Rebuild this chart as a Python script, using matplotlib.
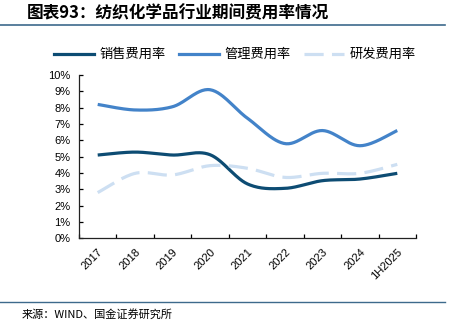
import numpy as np
import matplotlib
matplotlib.use("Agg")
import matplotlib.pyplot as plt
from matplotlib.lines import Line2D
from matplotlib.ticker import FixedLocator, FuncFormatter

plt.rcParams["font.family"] = ["Liberation Sans", "Noto Sans CJK SC", "DejaVu Sans"]

# data (%)
years = ["2017", "2018", "2019", "2020", "2021", "2022", "2023", "2024", "1H2025"]
sales_rate = [5.10, 5.28, 5.10, 5.12, 3.33, 3.06, 3.53, 3.63, 3.98]
admin_rate = [8.20, 7.86, 8.06, 9.10, 7.35, 5.80, 6.60, 5.67, 6.60]
rnd_rate = [2.80, 3.98, 3.88, 4.45, 4.29, 3.73, 3.98, 3.98, 4.53]

C_SALES = "#0d4c73"
C_ADMIN = "#4383c9"
C_RND = "#cddff2"


def smooth(xs, ys, n=30):
    """Excel-style smoothed line (cubic bezier through the points)."""
    xs = np.asarray(xs, float)
    ys = np.asarray(ys, float)
    pts = np.column_stack([xs, ys])
    out = []
    for i in range(len(pts) - 1):
        p0 = pts[i - 1] if i > 0 else pts[i]
        p1 = pts[i]
        p2 = pts[i + 1]
        p3 = pts[i + 2] if i + 2 < len(pts) else pts[i + 1]
        c1 = p1 + (p2 - p0) / 6
        c2 = p2 - (p3 - p1) / 6
        t = np.linspace(0, 1, n)[:, None]
        seg = ((1 - t) ** 3) * p1 + 3 * ((1 - t) ** 2) * t * c1 + 3 * (1 - t) * t ** 2 * c2 + t ** 3 * p2
        out.append(seg if i == 0 else seg[1:])
    seg = np.vstack(out)
    return seg[:, 0], seg[:, 1]


fig = plt.figure(figsize=(4.56, 3.32), dpi=100)
ax = fig.add_axes([0.1732, 0.2822, 0.7391, 0.4918])

x = np.arange(len(years))
for vals, color, ls in [(sales_rate, C_SALES, "-"), (admin_rate, C_ADMIN, "-"), (rnd_rate, C_RND, "--")]:
    sx, sy = smooth(x, vals)
    line, = ax.plot(sx, sy, color=color, linewidth=2.3, linestyle=ls, solid_capstyle="butt")
    if ls == "--":
        line.set_dashes((6, 2.6))

ax.set_xlim(-0.5, len(years) - 0.5)
ax.set_ylim(0, 10)
ax.yaxis.set_major_locator(FixedLocator(np.arange(0, 11)))
ax.yaxis.set_major_formatter(FuncFormatter(lambda v, p: f"{v:.0f}%"))
ax.xaxis.set_major_locator(FixedLocator(np.arange(-0.5, len(years), 1.0)))
ax.xaxis.set_major_formatter(FuncFormatter(lambda v, p: ""))
ax.xaxis.set_minor_locator(FixedLocator(x))
ax.set_xticklabels(years, minor=True, rotation=45, ha="right", va="top", rotation_mode="anchor")
ax.tick_params(axis="x", which="major", direction="in", length=3, width=0.9)
ax.tick_params(axis="x", which="minor", length=0, pad=6, labelsize=8)
ax.tick_params(axis="y", direction="in", length=3, width=0.9, labelsize=8, pad=6)

for s in ["top", "right"]:
    ax.spines[s].set_visible(False)
for s in ["left", "bottom"]:
    ax.spines[s].set_linewidth(0.9)
    ax.spines[s].set_color("#222222")

# legend
handles = [
    Line2D([], [], color=C_SALES, lw=2.3),
    Line2D([], [], color=C_ADMIN, lw=2.3),
    Line2D([], [], color=C_RND, lw=2.3, dashes=(6, 2.6)),
]
labels = ["销售费用率", "管理费用率", "研发费用率"]
fig.legend(handles, labels, loc="center", bbox_to_anchor=(0.515, 0.835), ncol=3, frameon=False,
           prop={"family": ["Noto Sans CJK SC"], "size": 9.5}, handlelength=3.0,
           columnspacing=1.0, handletextpad=0.45)

# title, rules, source
fig.text(0.059, 0.961, "图表93：纺织化学品行业期间费用率情况", fontsize=12, fontweight="bold",
         style="italic", family=["Noto Sans CJK SC"], va="center", ha="left")
fig.add_artist(Line2D([0, 0.976], [0.925, 0.925], color="#3d6a8c", lw=1.2))
fig.add_artist(Line2D([0, 0.976], [0.09, 0.09], color="#3d6a8c", lw=1.0))
fig.text(0.048, 0.054, "来源：WIND、国金证券研究所", fontsize=8, family=["Noto Sans CJK SC"],
         va="center", ha="left")

fig.savefig("out.png", dpi=100)
